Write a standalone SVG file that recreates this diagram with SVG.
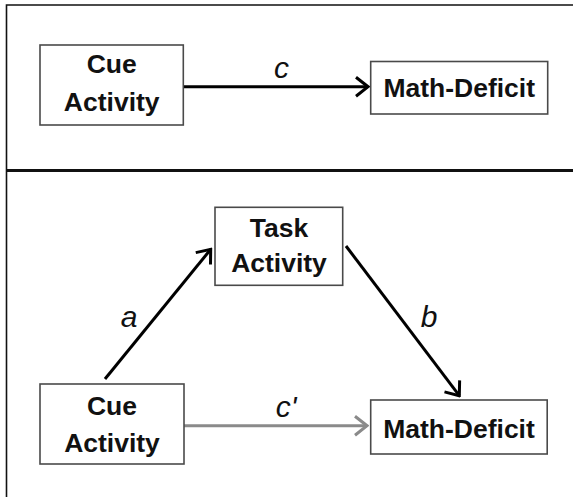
<svg xmlns="http://www.w3.org/2000/svg" width="573" height="497" viewBox="0 0 573 497">
<style>
.box{fill:#fff;stroke:#4a4a4a;stroke-width:1.6}
.lbl{font-family:"Liberation Sans",Arial,sans-serif;font-weight:bold;font-size:26.5px;fill:#111;text-anchor:middle}
.ital{font-family:"Liberation Sans",Arial,sans-serif;font-style:italic;font-size:30px;fill:#111;text-anchor:middle}
.blk{stroke:#000;stroke-width:3;fill:none}
.gry{stroke:#8a8a8a;stroke-width:3;fill:none}
.frame{stroke:#111;fill:none}
</style>
<defs>
<marker id="ab" viewBox="0 0 16 22" refX="14" refY="11" markerWidth="16" markerHeight="22" markerUnits="userSpaceOnUse" orient="auto">
<path d="M2,1.5 L14,11 L2,20.5" fill="none" stroke="#000" stroke-width="3"/>
</marker>
<marker id="ag" viewBox="0 0 16 22" refX="14" refY="11" markerWidth="16" markerHeight="22" markerUnits="userSpaceOnUse" orient="auto">
<path d="M2,1.5 L14,11 L2,20.5" fill="none" stroke="#8a8a8a" stroke-width="3"/>
</marker>
</defs>
<rect width="573" height="497" fill="#fff"/>
<g id="frame">
<path class="frame" d="M6.5,497 V5 H573" stroke-width="1.6"/>
<line class="frame" x1="6" y1="170.5" x2="573" y2="170.5" stroke-width="3"/>
</g>
<g id="connectors">
<line class="blk" x1="184" y1="86.7" x2="368" y2="86.7" marker-end="url(#ab)"/>
<line class="gry" x1="184" y1="425.7" x2="367" y2="425.7" marker-end="url(#ag)"/>
<line class="blk" x1="105" y1="379" x2="210.7" y2="249.3" marker-end="url(#ab)"/>
<line class="blk" x1="346" y1="246" x2="459.3" y2="395.7" marker-end="url(#ab)"/>
<text class="ital" x="281.5" y="78">c</text>
<text class="ital" x="129" y="327">a</text>
<text class="ital" x="429" y="327">b</text>
<text class="ital" x="286" y="417">c'</text>
</g>
<g id="cue-top">
<rect class="box" x="40" y="45" width="143.3" height="80"/>
<text class="lbl" x="111.7" y="73.3">Cue</text>
<text class="lbl" x="111.7" y="111">Activity</text>
</g>
<g id="math-top">
<rect class="box" x="370.7" y="61.5" width="177" height="52.5"/>
<text class="lbl" x="459.2" y="97.3">Math-Deficit</text>
</g>
<g id="task">
<rect class="box" x="215" y="207.3" width="127.7" height="78"/>
<text class="lbl" x="279" y="236.7">Task</text>
<text class="lbl" x="279" y="271.7">Activity</text>
</g>
<g id="cue-bottom">
<rect class="box" x="40" y="384" width="144" height="80"/>
<text class="lbl" x="112" y="415">Cue</text>
<text class="lbl" x="112" y="451.7">Activity</text>
</g>
<g id="math-bottom">
<rect class="box" x="370.7" y="400" width="176.5" height="54"/>
<text class="lbl" x="459" y="438.3">Math-Deficit</text>
</g>
</svg>
